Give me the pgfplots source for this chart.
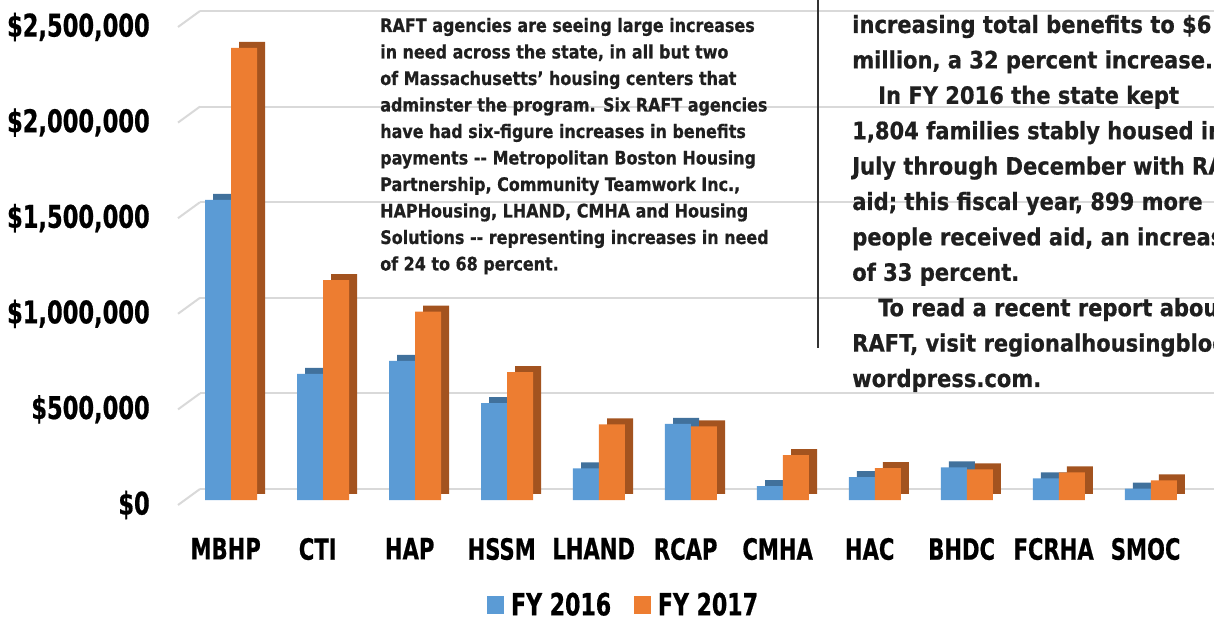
\documentclass[border=0pt]{standalone}
\usepackage{fontspec}
\setmainfont{DejaVu Sans Condensed}[FakeStretch=0.8, BoldFeatures={FakeBold=0.6}]
\newfontfamily\txtfont{DejaVu Sans Condensed}[FakeStretch=0.95, BoldFeatures={FakeBold=0.6}]
\newfontfamily\rtxtfont{DejaVu Sans Condensed}[FakeStretch=0.98, BoldFeatures={FakeBold=0.6}]
\usepackage{pgfplots}
\usepackage{pgfplotstable}
\pgfplotsset{compat=1.18}
\definecolor{cblue}{HTML}{5B9BD5}
\definecolor{corange}{HTML}{ED7D31}
\definecolor{cbluedk}{HTML}{41719C}
\definecolor{corangedk}{HTML}{A3531F}
\definecolor{gridgray}{HTML}{D9D9D9}
\pgfplotstableread{
x fy16 fy17
0 1570000 2365000
1 660000 1150000
2 728000 985000
3 507000 669000
4 165000 395000
5 398000 385000
6 72000 235000
7 120000 167000
8 170000 160000
9 113000 145000
10 60000 102000
}\datatable
\pgfplotsset{base/.style={scale only axis, width=760.5pt, height=375pt,
  xmin=-0.337, xmax=10.685, ymin=0, ymax=2615063,
  axis line style={draw=none}, major tick style={draw=none},
  clip=false, ybar, bar width=19.5pt, anchor=south west}}
\begin{document}
\bfseries
\begin{tikzpicture}
\useasboundingbox (0,0) rectangle (910.5pt,463.5pt);
\clip (0,0) rectangle (910.5pt,463.5pt);
% back wall grid
\begin{axis}[base, at={(150pt,96.75pt)}, ytick={0,500000,1000000,1500000,2000000,2500000},
  yticklabels=\empty, xtick=\empty, ymajorgrids, grid style={line width=1.5pt, gridgray}]
\addplot[draw=none, fill=none, forget plot] coordinates {(0,0)};
\foreach \v in {0,500000,1000000,1500000,2000000,2500000}{
  \edef\temp{\noexpand\draw[line width=1.5pt, gridgray] ([xshift=-16.5pt,yshift=-12pt]axis cs:-0.337,\v) -- (axis cs:-0.337,\v);}
  \temp
}
\end{axis}
% depth faces
\begin{axis}[base, at={(156pt,93pt)}, hide axis]
\addplot[fill=cbluedk, draw=none, bar shift=-9.75pt] table[x=x,y=fy16]{\datatable};
\addplot[fill=corangedk, draw=none, bar shift=9.75pt] table[x=x,y=fy17]{\datatable};
\end{axis}
% front faces
\begin{axis}[base, at={(150pt,88.5pt)},
  ytick={0,500000,1000000,1500000,2000000,2500000},
  yticklabels={{\$0},{\$500,000},{\$1,000,000},{\$1,500,000},{\$2,000,000},{\$2,500,000}},
  yticklabel style={anchor=east, inner sep=0pt, xshift=-37.5pt, yshift=-3.75pt, font=\fontsize{23.5}{25}\selectfont},
  xtick={0,...,10},
  xticklabels={MBHP,CTI,HAP,HSSM,LHAND,RCAP,CMHA,HAC,BHDC,FCRHA,SMOC},
  xticklabel style={anchor=north, inner sep=0pt, xshift=-4pt, yshift=-24pt, font=\fontsize{22}{24}\selectfont},
  legend style={at={(0.418,-0.21)}, anchor=center, draw=none, fill=none, legend columns=2,
    /tikz/every odd column/.append style={column sep=3pt},
    /tikz/every even column/.append style={column sep=15pt}, font=\fontsize{23}{25}\selectfont},
  legend image code/.code={\fill[#1] (0pt,-6.6pt) rectangle (13pt,6.6pt);}]
\addplot[fill=cblue, draw=none, bar shift=-9.75pt] table[x=x,y=fy16]{\datatable};
\addplot[fill=corange, draw=none, bar shift=9.75pt] table[x=x,y=fy17]{\datatable};
\legend{FY 2016, FY 2017}
\end{axis}
% vertical rule
\draw[line width=0.8pt, black!80] (613.5pt,463.5pt) -- (613.5pt,202.5pt);
% left text block
\begin{scope}[every node/.style={anchor=base west, inner sep=0pt, font=\txtfont\fontsize{14}{16}\selectfont, text=black!88}]
\foreach \t [count=\i] in {
 {RAFT agencies are seeing large increases},
 {in need across the state, in all but two},
 {of Massachusetts’ housing centers that},
 {adminster the program. Six RAFT agencies},
 {have had six-figure increases in benefits},
 {payments -{}- Metropolitan Boston Housing},
 {Partnership, Community Teamwork Inc.,},
 {HAPHousing, LHAND, CMHA and Housing},
 {Solutions -{}- representing increases in need},
 {of 24 to 68 percent.}}
 \node at (285pt, 459.375pt-\i*19.875pt) {\t};
\end{scope}
% right text block
\begin{scope}[every node/.style={anchor=base west, inner sep=0pt, font=\rtxtfont\fontsize{17.9}{20}\selectfont, text=black!88}]
\node at (639pt, 438.75pt) {increasing total benefits to \$6};
\node at (639pt, 412.2pt) {million, a 32 percent increase.};
\node at (658.5pt, 385.65pt) {In FY 2016 the state kept};
\node at (639pt, 359.1pt) {1,804 families stably housed in};
\node at (639pt, 332.55pt) {July through December with RAFT};
\node at (639pt, 306pt) {aid; this fiscal year, 899 more};
\node at (639pt, 279.45pt) {people received aid, an increase};
\node at (639pt, 252.9pt) {of 33 percent.};
\node at (658.5pt, 226.35pt) {To read a recent report about};
\node at (639pt, 199.8pt) {RAFT, visit regionalhousingblog.};
\node at (639pt, 173.25pt) {wordpress.com.};
\end{scope}
\end{tikzpicture}
\end{document}
